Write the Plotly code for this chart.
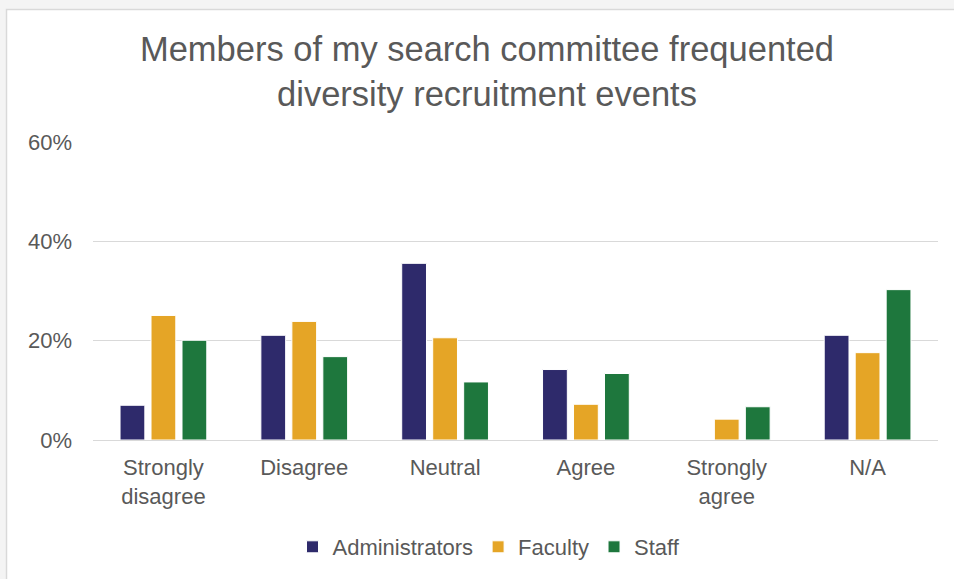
import plotly.graph_objects as go

categories = ["Strongly<br>disagree", "Disagree", "Neutral", "Agree", "Strongly<br>agree", "N/A"]
administrators = [0.070, 0.211, 0.356, 0.142, 0.0, 0.211]
faculty = [0.251, 0.239, 0.206, 0.072, 0.042, 0.176]
staff = [0.201, 0.168, 0.117, 0.134, 0.067, 0.303]

series = [
    ("Administrators", administrators, "#2e2a6b"),
    ("Faculty", faculty, "#e5a526"),
    ("Staff", staff, "#1e773d"),
]

W, H = 954, 579
ML, MR, MT, MB = 93, 16, 142, 139
PW, PH = W - ML - MR, H - MT - MB

fig = go.Figure()
for name, vals, color in series:
    fig.add_trace(go.Bar(
        x=categories, y=vals, name=name,
        marker=dict(color=color, line=dict(color="white", width=1)),
    ))

font_color = "#595959"

# chart box (white card with light border on a light grey page)
fig.add_shape(
    type="rect", xref="paper", yref="paper", layer="below",
    x0=(6.5 - ML) / PW, x1=(W + 20 - ML) / PW,
    y0=(H - MB - (H + 20)) / PH, y1=(H - MB - 9.5) / PH,
    fillcolor="white", line=dict(color="#d9d9d9", width=1.5),
)

fig.update_layout(
    width=W, height=H,
    paper_bgcolor="#f4f4f4", plot_bgcolor="white",
    font=dict(family="Liberation Sans, Arial, sans-serif", color=font_color, size=22),
    title=dict(
        text="Members of my search committee frequented<br>diversity recruitment events",
        x=(487 - ML) / PW, xref="paper", xanchor="center",
        y=1 - 61 / H, yanchor="middle",
        font=dict(size=34.5, color=font_color),
    ),
    barmode="group", bargap=0.34, bargroupgap=0.2,
    margin=dict(l=ML, r=MR, t=MT, b=MB, autoexpand=False),
    legend=dict(
        orientation="h", x=(489 - ML) / PW, xanchor="center", y=-107 / PH, yanchor="middle",
        font=dict(size=22, color=font_color), traceorder="normal",
        bgcolor="rgba(0,0,0,0)",
    ),
    xaxis=dict(
        showgrid=False, showline=True, linecolor="#d9d9d9", linewidth=1,
        ticks="", ticklabelstandoff=8, tickfont=dict(size=22, color=font_color), automargin=False,
    ),
    yaxis=dict(
        range=[0, 0.6005], dtick=0.2, tickformat=".0%",
        showgrid=True, gridcolor="#d9d9d9", gridwidth=1,
        zeroline=True, zerolinecolor="#d9d9d9", zerolinewidth=1,
        showline=False, ticks="", ticklabelstandoff=20, automargin=False,
        tickfont=dict(size=22, color=font_color),
    ),
)

fig.write_html("out.html", config={"displayModeBar": False},
               post_script="document.body.style.margin='0';")
